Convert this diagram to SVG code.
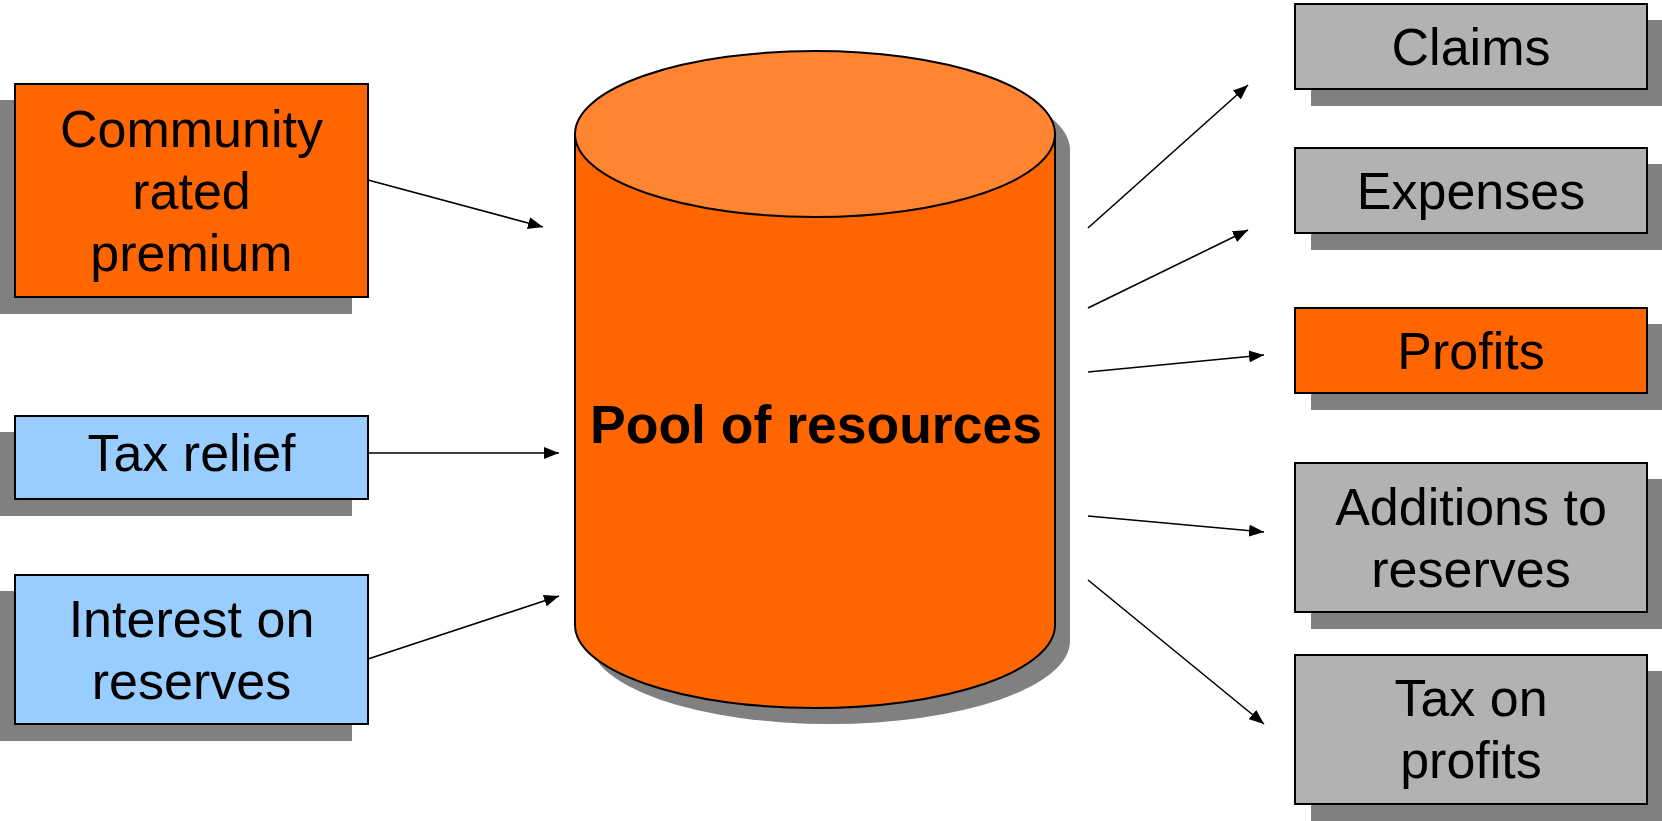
<svg xmlns="http://www.w3.org/2000/svg" width="1662" height="821" viewBox="0 0 1662 821">
<defs>
<style>
.sh{fill:#808080;}
.box{stroke:#000;stroke-width:2;}
.or{fill:#FF6600;}
.bl{fill:#99CCFF;}
.gr{fill:#B2B2B2;}
.t{font-family:"Liberation Sans",Arial,sans-serif;font-size:52px;fill:#000;text-anchor:middle;}
.tb{font-family:"Liberation Sans",Arial,sans-serif;font-size:53.5px;font-weight:bold;fill:#000;text-anchor:middle;}
.c{stroke:#000;stroke-width:1.6;fill:none;marker-end:url(#ah);}
</style>
<marker id="ah" viewBox="0 0 15 12" refX="15" refY="6" markerWidth="15" markerHeight="12" markerUnits="userSpaceOnUse" orient="auto">
<path d="M0,0 L15,6 L0,12 Z" fill="#000"/>
</marker>
</defs>
<rect width="1662" height="821" fill="#fff"/>

<g id="pool">
<path class="sh" d="M590,150 A240,83 0 0 1 1070,150 L1070,641 A240,83 0 0 1 590,641 Z"/>
<path class="or" stroke="#000" stroke-width="2" d="M575,134 L1055,134 L1055,625 A240,83 0 0 1 575,625 Z"/>
<ellipse cx="815" cy="134" rx="240" ry="83" fill="#FF8533" stroke="#000" stroke-width="2"/>
<text class="tb" x="816" y="443">Pool of resources</text>
</g>

<g id="community">
<rect class="sh" x="0" y="100" width="352" height="214"/>
<rect class="box or" x="15" y="84" width="353" height="213"/>
<text class="t" x="191.5" y="146.5">Community</text>
<text class="t" x="191.5" y="208.5">rated</text>
<text class="t" x="191.5" y="270.5">premium</text>
</g>

<g id="taxrelief">
<rect class="sh" x="0" y="432" width="352" height="84"/>
<rect class="box bl" x="15" y="416" width="353" height="83"/>
<text class="t" x="191.5" y="471">Tax relief</text>
</g>

<g id="interest">
<rect class="sh" x="0" y="591" width="352" height="150"/>
<rect class="box bl" x="15" y="575" width="353" height="149"/>
<text class="t" x="191.5" y="636.5">Interest on</text>
<text class="t" x="191.5" y="698.5">reserves</text>
</g>

<g id="claims">
<rect class="sh" x="1311" y="20" width="351" height="86"/>
<rect class="box gr" x="1295" y="4" width="352" height="85"/>
<text class="t" x="1471" y="64.5">Claims</text>
</g>

<g id="expenses">
<rect class="sh" x="1311" y="164" width="351" height="86"/>
<rect class="box gr" x="1295" y="148" width="352" height="85"/>
<text class="t" x="1471" y="208.5">Expenses</text>
</g>

<g id="profits">
<rect class="sh" x="1311" y="324" width="351" height="86"/>
<rect class="box or" x="1295" y="308" width="352" height="85"/>
<text class="t" x="1471" y="368.5">Profits</text>
</g>

<g id="additions">
<rect class="sh" x="1311" y="479" width="351" height="150"/>
<rect class="box gr" x="1295" y="463" width="352" height="149"/>
<text class="t" x="1471" y="524.5">Additions to</text>
<text class="t" x="1471" y="586.5">reserves</text>
</g>

<g id="taxonprofits">
<rect class="sh" x="1311" y="671" width="351" height="150"/>
<rect class="box gr" x="1295" y="655" width="352" height="149"/>
<text class="t" x="1471" y="716">Tax on</text>
<text class="t" x="1471" y="778">profits</text>
</g>

<g id="connectors">
<line class="c" x1="368" y1="180" x2="543" y2="227"/>
<line class="c" x1="368" y1="453" x2="559" y2="453"/>
<line class="c" x1="368" y1="659" x2="559" y2="596"/>
<line class="c" x1="1088" y1="228" x2="1248" y2="85"/>
<line class="c" x1="1088" y1="308" x2="1248" y2="230"/>
<line class="c" x1="1088" y1="372" x2="1264" y2="355"/>
<line class="c" x1="1088" y1="516" x2="1264" y2="532"/>
<line class="c" x1="1088" y1="580" x2="1264" y2="724"/>
</g>
</svg>
